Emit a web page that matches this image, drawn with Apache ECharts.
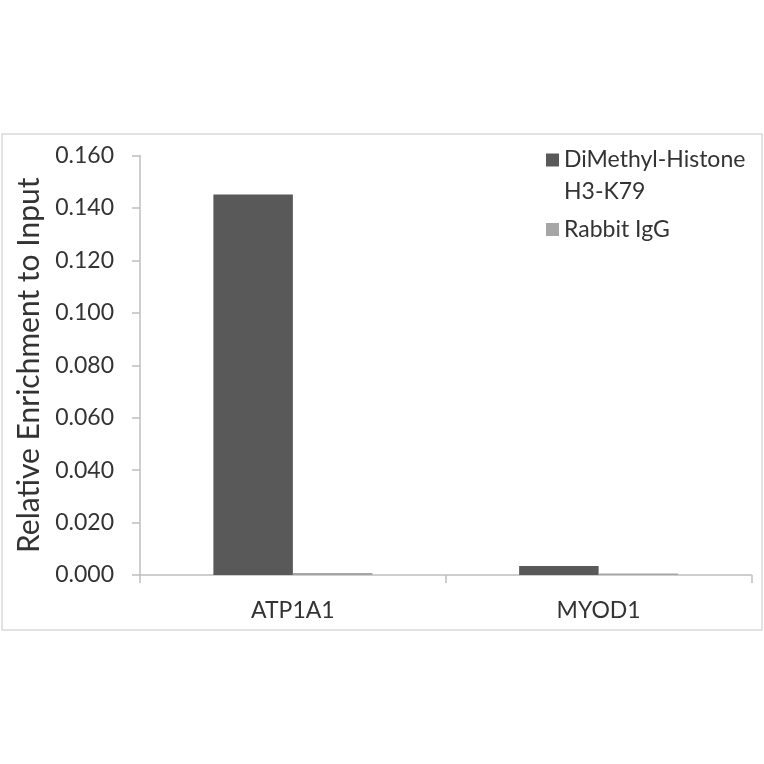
<!DOCTYPE html>
<html>
<head>
<meta charset="utf-8">
<script src="https://cdn.jsdelivr.net/npm/echarts@6/dist/echarts.min.js"></script>
<style>
html,body{margin:0;padding:0;background:#fff;}
#chart{width:764px;height:764px;}
</style>
</head>
<body>
<div id="chart"></div>
<script>
var categories = ['ATP1A1', 'MYOD1'];
var seriesNames = ['DiMethyl-Histone H3-K79', 'Rabbit IgG'];
var dimethylValues = [0.1451, 0.0034];
var igGValues = [0.0008, 0.0006];
var yTicks = [0, 0.02, 0.04, 0.06, 0.08, 0.10, 0.12, 0.14, 0.16];
var yTitle = 'Relative Enrichment to Input';

var FONT = 'Lato';
var TXT = '#333333';
var AXIS = '#bfbfbf';

var chart = echarts.init(document.getElementById('chart'));
chart.setOption({
  animation: false,
  backgroundColor: '#fff',
  textStyle: { fontFamily: FONT },
  graphic: [{
    type: 'rect',
    shape: { x: 2, y: 134, width: 760, height: 496 },
    style: { fill: 'none', stroke: '#d9d9d9', lineWidth: 1.5 },
    silent: true, z: -1
  }],
  grid: { left: 140, top: 155.5, right: 12.5, bottom: 189, containLabel: false },
  legend: [{
    orient: 'vertical', left: 546, top: 112, padding: 0,
    itemWidth: 13, itemHeight: 13,
    icon: 'rect',
    data: [seriesNames[0]],
    formatter: function () { return '\nDiMethyl-Histone\nH3-K79'; },
    textStyle: { fontFamily: FONT, fontSize: 23, color: TXT, lineHeight: 32 }
  }, {
    orient: 'vertical', left: 546, top: 213.5, padding: 0,
    itemWidth: 13, itemHeight: 13,
    icon: 'rect',
    data: [seriesNames[1]],
    textStyle: { fontFamily: FONT, fontSize: 23, color: TXT, lineHeight: 32 }
  }],
  xAxis: {
    type: 'category',
    data: categories,
    axisLine: { lineStyle: { color: AXIS, width: 1.5 } },
    axisTick: { show: true, length: 8, interval: 0, lineStyle: { color: AXIS, width: 1.5 } },
    axisLabel: { fontFamily: FONT, fontSize: 23, color: TXT, margin: 24 },
    splitLine: { show: false }
  },
  yAxis: {
    type: 'value',
    min: 0, max: yTicks[yTicks.length - 1], interval: yTicks[1] - yTicks[0],
    name: yTitle,
    nameLocation: 'middle',
    nameGap: 78,
    nameTextStyle: { fontFamily: FONT, fontSize: 30, color: TXT },
    axisLine: { show: true, lineStyle: { color: AXIS, width: 1.5 } },
    axisTick: { show: true, length: 8, lineStyle: { color: AXIS, width: 1.5 } },
    axisLabel: { fontFamily: FONT, fontSize: 23, color: TXT, margin: 26,
      formatter: function (v) { return v.toFixed(3); } },
    splitLine: { show: false }
  },
  series: [{
    name: seriesNames[0], type: 'bar', data: dimethylValues,
    itemStyle: { color: '#595959' },
    barGap: '0%', barCategoryGap: '48%'
  }, {
    name: seriesNames[1], type: 'bar', data: igGValues,
    itemStyle: { color: '#a6a6a6' },
    barGap: '0%', barCategoryGap: '48%'
  }]
});
</script>
</body>
</html>
